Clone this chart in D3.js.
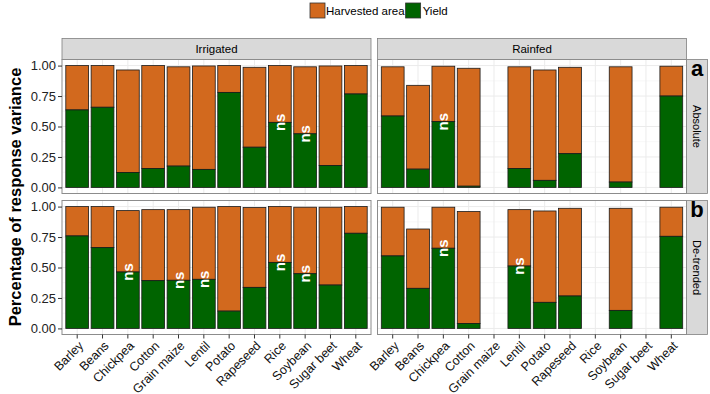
<!DOCTYPE html>
<html>
<head>
<meta charset="utf-8">
<script src="https://cdn.jsdelivr.net/npm/d3@7"></script>
<style>
body { margin: 0; background: #fff; }
text { font-family: "Liberation Sans", Arial, sans-serif; }
.axis text { font-family: "Liberation Sans Narrow", "Liberation Sans", sans-serif; }
</style>
</head>
<body>
<script>
var width = 710;
var height = 394;

// crops along the x axis
var crops = ["Barley", "Beans", "Chickpea", "Cotton", "Grain maize", "Lentil",
    "Potato", "Rapeseed", "Rice", "Soybean", "Sugar beet", "Wheat"];
var columns = ["Irrigated", "Rainfed"];
var rows = ["Absolute", "De-trended"];
var rowLetters = ["a", "b"];
var yTicks = [0, 0.25, 0.5, 0.75, 1];

// share of variance explained by yield / harvested area (null = no data)
var irrAbsYield = [0.636, 0.658, 0.123, 0.156, 0.175, 0.148, 0.78, 0.33, 0.534, 0.44, 0.18, 0.767];
var irrAbsArea  = [0.364, 0.342, 0.841, 0.844, 0.815, 0.849, 0.22, 0.656, 0.466, 0.55, 0.817, 0.233];
var rainAbsYield = [0.586, 0.15, 0.54, 0.01, null, 0.156, 0.058, 0.277, null, 0.044, null, 0.75];
var rainAbsArea  = [0.404, 0.688, 0.455, 0.968, null, 0.834, 0.906, 0.709, null, 0.946, null, 0.245];
var irrDetYield = [0.759, 0.663, 0.463, 0.392, 0.395, 0.403, 0.142, 0.337, 0.542, 0.449, 0.356, 0.781];
var irrDetArea  = [0.241, 0.337, 0.504, 0.583, 0.58, 0.592, 0.858, 0.655, 0.458, 0.546, 0.639, 0.219];
var rainDetYield = [0.595, 0.329, 0.658, 0.041, null, 0.512, 0.214, 0.266, null, 0.148, null, 0.756];
var rainDetArea  = [0.4, 0.487, 0.337, 0.918, null, 0.463, 0.75, 0.72, null, 0.838, null, 0.239];

// yield effect not significant
var irrAbsNs = ["Rice", "Soybean"];
var rainAbsNs = ["Chickpea"];
var irrDetNs = ["Chickpea", "Grain maize", "Lentil", "Rice", "Soybean"];
var rainDetNs = ["Chickpea", "Lentil"];

var panels = [
    {row: 0, col: 0, yld: irrAbsYield, area: irrAbsArea, ns: irrAbsNs},
    {row: 0, col: 1, yld: rainAbsYield, area: rainAbsArea, ns: rainAbsNs},
    {row: 1, col: 0, yld: irrDetYield, area: irrDetArea, ns: irrDetNs},
    {row: 1, col: 1, yld: rainDetYield, area: rainDetArea, ns: rainDetNs}
];

var areaColor = "#D2691E";
var yieldColor = "#006400";

var panelW = 309;
var panelH = 134;
var panelX = [62, 377.5];
var panelY = [59.5, 200.5];
var stripH = 21;
var stripW = 21;

var svg = d3.select("body").append("svg")
    .attr("width", width)
    .attr("height", height);

var x = d3.scaleBand()
    .domain(crops)
    .range([0, panelW])
    .paddingInner(0.1)
    .paddingOuter(0.15);

var y = d3.scaleLinear()
    .domain([-0.05, 1.05])
    .range([panelH, 0]);

//legend
var legend = svg.append("g").attr("transform", "translate(310,3)");
legend.append("rect").attr("x", 0).attr("y", 0).attr("width", 15).attr("height", 15)
    .attr("fill", areaColor).attr("stroke", "#333").attr("stroke-width", 0.8);
var legText = legend.append("text").attr("x", 16).attr("y", 12).style("font-size", "11.5px").text("Harvested area");
var gx = 16 + legText.node().getComputedTextLength() + 1;
legend.append("rect").attr("x", gx).attr("y", 0).attr("width", 15).attr("height", 15)
    .attr("fill", yieldColor).attr("stroke", "#333").attr("stroke-width", 0.8);
legend.append("text").attr("x", gx + 17).attr("y", 12).style("font-size", "11.5px").text("Yield");

//column strips
columns.forEach(function (c, i) {
    svg.append("rect")
        .attr("x", panelX[i]).attr("y", panelY[0] - stripH)
        .attr("width", panelW).attr("height", stripH)
        .attr("fill", "#D9D9D9").attr("stroke", "#7f7f7f").attr("stroke-width", 0.8);
    svg.append("text")
        .attr("x", panelX[i] + panelW / 2).attr("y", panelY[0] - stripH / 2 + 4)
        .attr("text-anchor", "middle").style("font-size", "11.5px")
        .text(c);
});

//row strips
rows.forEach(function (r, i) {
    var sx = panelX[1] + panelW;
    svg.append("rect")
        .attr("x", sx).attr("y", panelY[i])
        .attr("width", stripW).attr("height", panelH)
        .attr("fill", "#D9D9D9").attr("stroke", "#7f7f7f").attr("stroke-width", 0.8);
    svg.append("text")
        .attr("transform", "translate(" + (sx + stripW / 2 - 4) + "," + (panelY[i] + panelH / 2) + ") rotate(90)")
        .attr("text-anchor", "middle").style("font-size", "11px")
        .text(r);
    svg.append("text")
        .attr("x", sx + stripW / 2).attr("y", panelY[i] + 16)
        .attr("text-anchor", "middle")
        .style("font-size", "22px").style("font-weight", "bold")
        .text(rowLetters[i]);
});

panels.forEach(function (p) {
    var g = svg.append("g")
        .attr("transform", "translate(" + panelX[p.col] + "," + panelY[p.row] + ")");

    g.append("rect").attr("width", panelW).attr("height", panelH).attr("fill", "#fff");

    // grid
    var minor = [0.125, 0.375, 0.625, 0.875];
    g.selectAll(".minor").data(minor).enter().append("line")
        .attr("x1", 0).attr("x2", panelW)
        .attr("y1", function (d) { return y(d); }).attr("y2", function (d) { return y(d); })
        .attr("stroke", "#f2f2f2").attr("stroke-width", 0.6);
    g.selectAll(".hgrid").data(yTicks).enter().append("line")
        .attr("x1", 0).attr("x2", panelW)
        .attr("y1", function (d) { return y(d); }).attr("y2", function (d) { return y(d); })
        .attr("stroke", "#ebebeb").attr("stroke-width", 1);
    g.selectAll(".vgrid").data(crops).enter().append("line")
        .attr("x1", function (d) { return x(d) + x.bandwidth() / 2; })
        .attr("x2", function (d) { return x(d) + x.bandwidth() / 2; })
        .attr("y1", 0).attr("y2", panelH)
        .attr("stroke", "#ebebeb").attr("stroke-width", 1);

    var rowsData = crops.map(function (c, i) {
        return {crop: c, yld: p.yld[i], area: p.area[i]};
    }).filter(function (d) { return d.yld !== null; });

    g.selectAll(".area").data(rowsData).enter().append("rect")
        .attr("x", function (d) { return x(d.crop); })
        .attr("width", x.bandwidth())
        .attr("y", function (d) { return y(d.yld + d.area); })
        .attr("height", function (d) { return y(d.yld) - y(d.yld + d.area); })
        .attr("fill", areaColor).attr("stroke", "#1a1a1a").attr("stroke-width", 0.8);

    g.selectAll(".yld").data(rowsData).enter().append("rect")
        .attr("x", function (d) { return x(d.crop); })
        .attr("width", x.bandwidth())
        .attr("y", function (d) { return y(d.yld); })
        .attr("height", function (d) { return y(0) - y(d.yld); })
        .attr("fill", yieldColor).attr("stroke", "#1a1a1a").attr("stroke-width", 0.8);

    // ns labels
    g.selectAll(".ns").data(rowsData.filter(function (d) { return p.ns.indexOf(d.crop) >= 0; }))
        .enter().append("text")
        .attr("transform", function (d) {
            return "translate(" + (x(d.crop) + x.bandwidth() / 2 + 5) + "," + y(d.yld) + ") rotate(-90)";
        })
        .attr("text-anchor", "middle")
        .attr("fill", "#fff")
        .style("font-size", "15px").style("font-weight", "bold")
        .text("ns");

    g.append("rect").attr("width", panelW).attr("height", panelH)
        .attr("fill", "none").attr("stroke", "#8c8c8c").attr("stroke-width", 1);

    // axes
    if (p.col === 0) {
        var ya = g.append("g").attr("class", "axis")
            .call(d3.axisLeft(y).tickValues(yTicks).tickFormat(d3.format(".2f")).tickSize(4).tickPadding(2));
        ya.select(".domain").remove();
        ya.selectAll("line").attr("stroke", "#333");
        ya.selectAll("text").style("font-size", "13px").attr("fill", "#222");
    }
    if (p.row === 1) {
        var xa = g.append("g").attr("transform", "translate(0," + panelH + ")")
            .call(d3.axisBottom(x).tickSize(4).tickPadding(2));
        xa.select(".domain").remove();
        xa.selectAll("line").attr("stroke", "#333");
        xa.selectAll("text")
            .style("font-size", "12.5px").attr("fill", "#111")
            .attr("text-anchor", "end")
            .attr("x", 0).attr("y", 0).attr("dy", 0)
            .attr("transform", "translate(7,12) rotate(-45)");
    }
});

//y title
svg.append("text")
    .attr("transform", "translate(21," + ((panelY[0] + panelY[1] + panelH) / 2) + ") rotate(-90)")
    .attr("text-anchor", "middle")
    .style("font-family", "'Liberation Sans Narrow', 'Liberation Sans', sans-serif")
    .style("font-size", "16.5px").style("font-weight", "bold")
    .text("Percentage of response variance");
</script>
</body>
</html>
